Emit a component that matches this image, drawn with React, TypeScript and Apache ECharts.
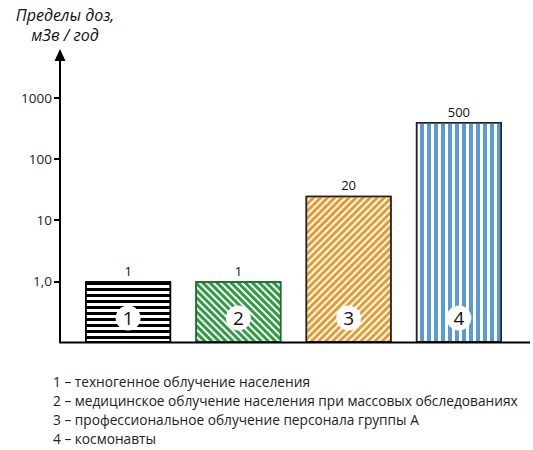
import * as echarts from "echarts";
import { useEffect, useRef } from "react";

// данные диаграммы
const categories = ["1", "2", "3", "4"];
const barValues = [1, 1, 25, 400];
const valueLabels = ["1", "1", "20", "500"];
const yTicks = [1, 10, 100, 1000];
const legendLines = [
  "1 – техногенное облучение населения",
  "2 – медицинское облучение населения при массовых обследованиях",
  "3 – профессиональное облучение персонала группы А",
  "4 – космонавты",
];

const FONT = "'Open Sans', 'Noto Sans', sans-serif";
const GRID_BOTTOM = 107.5;

const decals = [
  { symbol: "rect", symbolSize: 1, dashArrayX: [10, 0], dashArrayY: [3, 3], rotation: 0, color: "#000" },
  { symbol: "rect", symbolSize: 1, dashArrayX: [10, 0], dashArrayY: [3, 2], rotation: Math.PI / 4, color: "#2e9c41" },
  { symbol: "rect", symbolSize: 1, dashArrayX: [10, 0], dashArrayY: [3, 2], rotation: -Math.PI / 4, color: "#ea9a2c" },
  { symbol: "rect", symbolSize: 1, dashArrayX: [4, 3], dashArrayY: [10, 0], rotation: 0, color: "#5b9bd5" },
];
const borders = ["#000", "#1d6a2b", "#222", "#222"];

export default function App() {
  const ref = useRef<HTMLDivElement>(null);

  useEffect(() => {
    document.body.style.margin = "0";
    if (!ref.current) return;
    const chart = echarts.init(ref.current, null, { renderer: "svg" });
    chart.setOption({
      animation: false,
      title: {
        text: "Пределы доз,\nмЗв / год",
        left: 60,
        top: 0,
        textAlign: "center",
        textStyle: {
          fontFamily: FONT,
          fontStyle: "italic",
          fontWeight: "normal",
          fontSize: 16,
          lineHeight: 20,
          color: "#111",
        },
      },
      grid: { left: 73, right: 19, top: 55, bottom: GRID_BOTTOM },
      xAxis: {
        type: "category",
        data: categories,
        axisLine: { show: false },
        axisTick: { show: false },
        axisLabel: { show: false },
      },
      yAxis: {
        type: "log",
        logBase: 10,
        min: 0.1,
        max: 5000,
        startValue: 0.1,
        offset: 13,
        splitLine: { show: false },
        axisLine: {
          show: true,
          symbol: ["none", "triangle"],
          symbolSize: [11, 12],
          lineStyle: { color: "#000", width: 2 },
        },
        axisTick: {
          show: true,
          length: 6,
          customValues: yTicks,
          lineStyle: { color: "#000", width: 2 },
        },
        axisLabel: {
          customValues: yTicks,
          margin: 8,
          fontFamily: FONT,
          fontSize: 13.5,
          color: "#222",
          formatter: (v: number) => (v === 1 ? "1,0" : String(v)),
        },
      },
      series: [
        {
          type: "bar",
          barWidth: 86,
          data: barValues.map((v, i) => ({
            value: v,
            itemStyle: {
              color: "#fff",
              borderColor: borders[i],
              borderWidth: 1.5,
              decal: decals[i],
            },
          })),
          label: {
            show: true,
            position: "top",
            distance: 4,
            fontFamily: FONT,
            fontSize: 13,
            color: "#111",
            formatter: (p: any) => valueLabels[p.dataIndex],
          },
        },
        {
          type: "bar",
          barWidth: 86,
          barGap: "-100%",
          silent: true,
          data: barValues,
          itemStyle: { color: "transparent" },
          label: {
            show: true,
            position: "insideBottom",
            distance: 12,
            formatter: (p: any) => `{c|${p.name}}`,
            rich: {
              c: {
                width: 25,
                height: 25,
                lineHeight: 25,
                borderRadius: 12.5,
                backgroundColor: "#fff",
                align: "center",
                fontFamily: FONT,
                fontSize: 19,
                color: "#111",
              },
            },
          },
        },
      ],
      graphic: [
        {
          type: "line",
          shape: { x1: 60, y1: 450 - GRID_BOTTOM, x2: 530, y2: 450 - GRID_BOTTOM },
          style: { stroke: "#000", lineWidth: 2 },
          z: 10,
        },
        ...legendLines.map((t, i) => ({
          type: "text",
          left: 53,
          top: 374 + i * 19,
          style: {
            text: t,
            font: `13.7px ${FONT}`,
            fill: "#222",
          },
        })),
      ],
    });
    return () => chart.dispose();
  }, []);

  return <div ref={ref} style={{ width: 533, height: 450 }} />;
}
